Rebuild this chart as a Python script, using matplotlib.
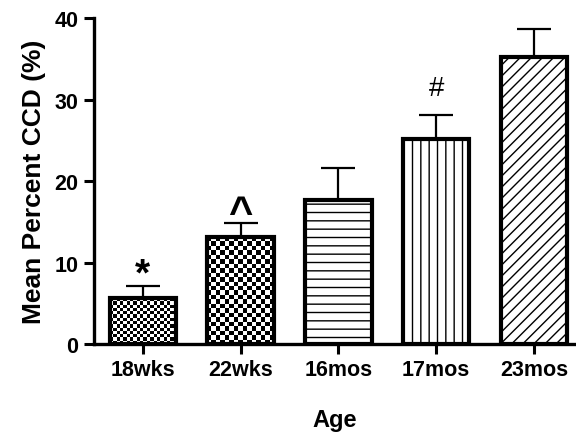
import matplotlib.pyplot as plt
import numpy as np

plt.rcParams['font.family'] = ['Liberation Sans', 'DejaVu Sans']
plt.rcParams['hatch.linewidth'] = 1.0

# data
ages = ['18wks', '22wks', '16mos', '17mos', '23mos']
means = [5.6, 13.1, 17.7, 25.2, 35.2]
sems = [1.5, 1.7, 3.9, 2.9, 3.5]
marks = ['*', '^', '', '#', '']
mark_heights = [8.5, 15.9, 0, 31.4, 0]

# fill for each bar: checker cell size in pixels, or a hatch string
checker_px = [3.3, 4.4, None, None, None]
hatches = [None, None, '--', '||', '///']

fig = plt.figure(figsize=(5.76, 4.35), dpi=100)
ax = fig.add_axes([0.163, 0.207, 0.837, 0.749])

x = np.arange(len(ages))
bars = ax.bar(x, means, width=0.68, color='white', edgecolor='black',
              linewidth=3, zorder=2)
for b, h, c in zip(bars, hatches, checker_px):
    if h:
        b.set_hatch(h)
    if c is not None:
        b.set_facecolor('none')

ax.errorbar(x, means, yerr=[np.zeros(len(sems)), sems], fmt='none',
            ecolor='black', elinewidth=1.6, capsize=12.5, capthick=1.6, zorder=1)

ax.set_xlim(-0.5, 4.43)
ax.set_ylim(0, 40)
ax.set_yticks([0, 10, 20, 30, 40])

fig.canvas.draw()
# checkerboard fills, clipped to the bar outline
for b, cell in zip(bars, checker_px):
    if cell is None:
        continue
    x0, y0 = b.get_x(), b.get_y()
    w, h = b.get_width(), b.get_height()
    p0 = ax.transData.transform((x0, y0))
    p1 = ax.transData.transform((x0 + w, y0 + h))
    nc = max(1, int(round((p1[0] - p0[0]) / cell)))
    nr = max(1, int(round((p1[1] - p0[1]) / cell)))
    board = (np.add.outer(np.arange(nr), np.arange(nc)) % 2).astype(float)
    im = ax.imshow(board, cmap='gray', extent=(x0, x0 + w, y0, y0 + h),
                   aspect='auto', interpolation='nearest', zorder=1.5)
    im.set_clip_path(b)
ax.set_xlim(-0.5, 4.43)
ax.set_ylim(0, 40)

for xi, m, yh in zip(x, marks, mark_heights):
    if not m:
        continue
    if m == '*':
        ax.text(xi, yh, m, ha='center', va='center', fontsize=28,
                fontweight='bold')
    elif m == '^':
        ax.text(xi, yh, m, ha='center', va='center', fontsize=30,
                fontweight='bold')
    else:
        ax.text(xi, yh, m, ha='center', va='center', fontsize=20)

ax.set_xticks(x)
ax.set_xticklabels(ages, fontsize=15.5, fontweight='bold')
for lab in ax.get_yticklabels():
    lab.set_fontsize(15.5)
    lab.set_fontweight('bold')
ax.tick_params(axis='both', direction='out', length=7, width=2.2, pad=4)

ax.set_xlabel('Age', fontsize=17, fontweight='bold', labelpad=20)
ax.set_ylabel('Mean Percent CCD (%)', fontsize=19, fontweight='bold',
              labelpad=6)

ax.spines['top'].set_visible(False)
ax.spines['right'].set_visible(False)
ax.spines['left'].set_linewidth(2.4)
ax.spines['bottom'].set_linewidth(2.4)

plt.savefig('out.png', dpi=100)
